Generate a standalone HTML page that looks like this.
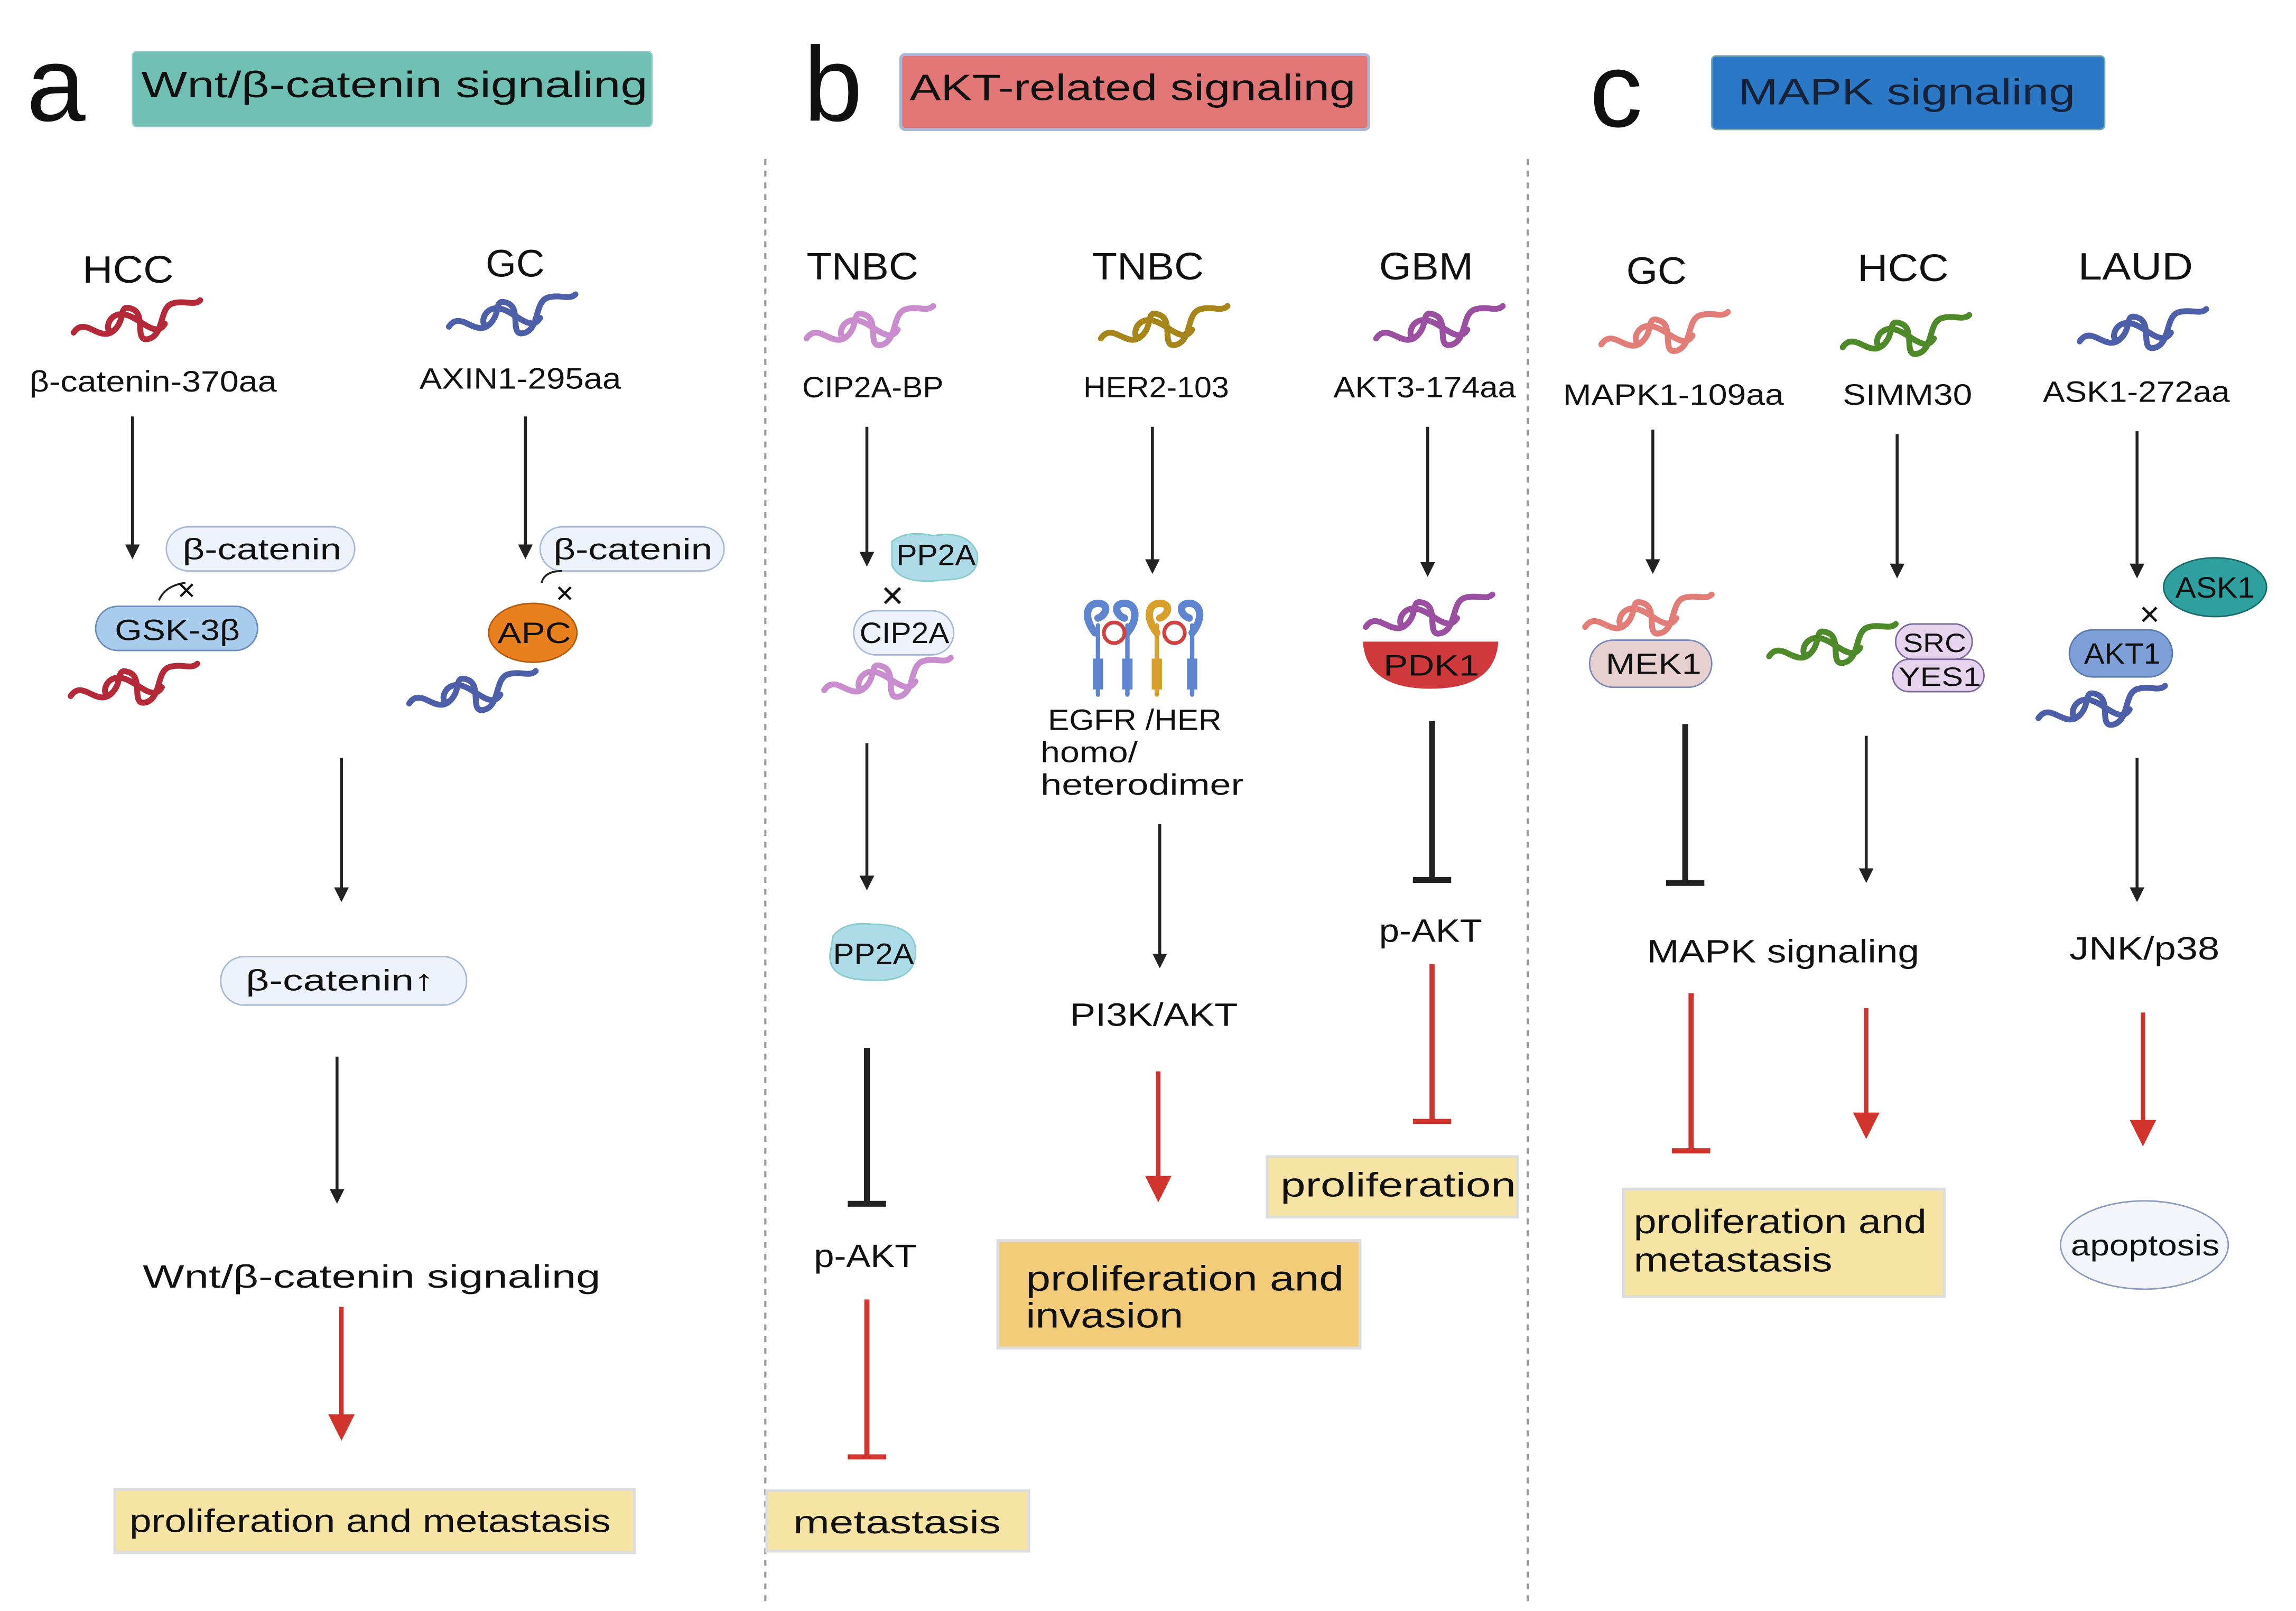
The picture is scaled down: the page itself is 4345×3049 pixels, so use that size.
<!DOCTYPE html>
<html><head><meta charset="utf-8">
<style>
html,body{margin:0;padding:0;background:#fff;}
svg{display:block;}
text{font-family:"Liberation Sans","DejaVu Sans",sans-serif;fill:#111;}
</style></head>
<body>
<svg width="4345" height="3049" viewBox="0 0 1560 1094.7" preserveAspectRatio="none" xmlns="http://www.w3.org/2000/svg">
<defs>
<marker id="ab" markerWidth="10" markerHeight="10" refX="5" refY="5" orient="auto" markerUnits="userSpaceOnUse" viewBox="0 0 10 10"><path d="M0,0 L10,5 L0,10 z" fill="#222"/></marker>
<marker id="ar" markerWidth="18" markerHeight="18" refX="9" refY="9" orient="auto" markerUnits="userSpaceOnUse" viewBox="0 0 18 18"><path d="M0,0 L18,9 L0,18 z" fill="#d0342c"/></marker>
<path id="sq" d="M0,26 C8,14 18,34 28,24 C36,16 30,6 40,10 C50,14 40,34 52,30 C62,26 58,8 68,6 C76,4 82,8 86,4 M28,24 C20,30 22,10 36,14 C46,17 56,30 62,20" fill="none" stroke-width="4" stroke-linecap="round"/>
</defs>
<rect width="1560" height="1094.7" fill="#fff"/>

<!-- headers -->
<text x="18" y="82" font-size="72">a</text>
<rect x="90" y="35" width="353" height="51" rx="3" fill="#6fc0b2" stroke="#9cc" />
<text x="96" y="66" font-size="25" textLength="344" lengthAdjust="spacingAndGlyphs">Wnt/β-catenin signaling</text>
<text x="546" y="82" font-size="72">b</text>
<rect x="612" y="37" width="318" height="51" rx="3" fill="#e27676" stroke="#a9b6d6" stroke-width="2"/>
<text x="618" y="68" font-size="25" textLength="303" lengthAdjust="spacingAndGlyphs">AKT-related signaling</text>
<text x="1080" y="86" font-size="72">c</text>
<rect x="1163" y="38" width="267" height="50" rx="3" fill="#2a78c6" stroke="#7aa" />
<text x="1181" y="71" font-size="25" textLength="229" lengthAdjust="spacingAndGlyphs" style="fill:#152238">MAPK  signaling</text>

<line x1="520" y1="108" x2="520" y2="1090" stroke="#999" stroke-width="1.5" stroke-dasharray="4,4"/>
<line x1="1038" y1="108" x2="1038" y2="1090" stroke="#999" stroke-width="1.5" stroke-dasharray="4,4"/>

<g font-size="20">
<!-- Panel a -->
<text x="56" y="192" font-size="26" textLength="62" lengthAdjust="spacingAndGlyphs">HCC</text>
<use href="#sq" x="50" y="200" stroke="#b52a38"/>
<text x="20" y="266" textLength="168" lengthAdjust="spacingAndGlyphs">β-catenin-370aa</text>
<line x1="90" y1="283" x2="90" y2="375" stroke="#222" stroke-width="2" marker-end="url(#ab)"/>
<rect x="113" y="358" width="128" height="30" rx="15" fill="#eef3fb" stroke="#a8b8d8"/>
<text x="124" y="380" textLength="108" lengthAdjust="spacingAndGlyphs">β-catenin</text>
<path d="M108,408 q4,-10 18,-12" fill="none" stroke="#222" stroke-width="1.3"/>
<text x="120" y="407" font-size="16">✕</text>
<rect x="65" y="412" width="110" height="30" rx="15" fill="#a9cbec" stroke="#6d8cb8"/>
<text x="78" y="435" textLength="85" lengthAdjust="spacingAndGlyphs">GSK-3β</text>
<use href="#sq" x="48" y="447" stroke="#b52a38"/>

<text x="330" y="188" font-size="26" textLength="40" lengthAdjust="spacingAndGlyphs">GC</text>
<use href="#sq" x="305" y="196" stroke="#4d5fa8"/>
<text x="285" y="264" textLength="137" lengthAdjust="spacingAndGlyphs">AXIN1-295aa</text>
<line x1="357" y1="283" x2="357" y2="375" stroke="#222" stroke-width="2" marker-end="url(#ab)"/>
<rect x="367" y="358" width="125" height="30" rx="15" fill="#eef3fb" stroke="#a8b8d8"/>
<text x="376" y="380" textLength="108" lengthAdjust="spacingAndGlyphs">β-catenin</text>
<path d="M368,396 q2,-8 14,-8" fill="none" stroke="#222" stroke-width="1.3"/>
<text x="377" y="409" font-size="16">✕</text>
<ellipse cx="362" cy="430" rx="30" ry="20" fill="#e8801e" stroke="#b65a10"/>
<text x="338" y="437" textLength="50" lengthAdjust="spacingAndGlyphs">APC</text>
<use href="#sq" x="278" y="452" stroke="#4d5fa8"/>

<line x1="232" y1="515" x2="232" y2="608" stroke="#222" stroke-width="2" marker-end="url(#ab)"/>
<rect x="150" y="650" width="167" height="33" rx="16" fill="#eef3fb" stroke="#a8b8d8"/>
<text x="167" y="673" textLength="128" lengthAdjust="spacingAndGlyphs">β-catenin↑</text>
<line x1="229" y1="718" x2="229" y2="813" stroke="#222" stroke-width="2" marker-end="url(#ab)"/>
<text x="97" y="875" font-size="22" textLength="311" lengthAdjust="spacingAndGlyphs">Wnt/β-catenin signaling</text>
<line x1="232" y1="888" x2="232" y2="970" stroke="#d0342c" stroke-width="3" marker-end="url(#ar)"/>
<rect x="78" y="1012" width="353" height="43" fill="#f6e4a4" stroke="#ddd" stroke-width="2"/>
<text x="88" y="1041" font-size="22" textLength="327" lengthAdjust="spacingAndGlyphs">proliferation and metastasis</text>

<!-- Panel b -->
<text x="548" y="190" font-size="26" textLength="76" lengthAdjust="spacingAndGlyphs">TNBC</text>
<use href="#sq" x="548" y="204" stroke="#c98ccc"/>
<text x="545" y="270" textLength="96" lengthAdjust="spacingAndGlyphs">CIP2A-BP</text>
<line x1="589" y1="290" x2="589" y2="380" stroke="#222" stroke-width="2" marker-end="url(#ab)"/>
<path d="M606,368 q10,-8 28,-4 q24,-4 30,12 q2,18 -22,18 q-30,4 -36,-10 z" fill="#aedbe8" stroke="#8cc"/>
<text x="609" y="384" textLength="54" lengthAdjust="spacingAndGlyphs">PP2A</text>
<text x="598" y="412" font-size="20">✕</text>
<rect x="580" y="415" width="68" height="30" rx="15" fill="#eef3fb" stroke="#a8b8d8"/>
<text x="584" y="437" textLength="61" lengthAdjust="spacingAndGlyphs">CIP2A</text>
<use href="#sq" x="560" y="443" stroke="#c98ccc"/>
<line x1="589" y1="505" x2="589" y2="600" stroke="#222" stroke-width="2" marker-end="url(#ab)"/>
<path d="M566,636 q8,-10 26,-8 q28,0 30,16 q2,24 -30,22 q-30,0 -28,-18 z" fill="#aedbe8" stroke="#8cc"/>
<text x="566" y="655" textLength="55" lengthAdjust="spacingAndGlyphs">PP2A</text>
<line x1="589" y1="712" x2="589" y2="818" stroke="#222" stroke-width="4"/>
<line x1="576" y1="818" x2="602" y2="818" stroke="#222" stroke-width="4"/>
<text x="553" y="861" font-size="22" textLength="70" lengthAdjust="spacingAndGlyphs">p-AKT</text>
<line x1="589" y1="883" x2="589" y2="990" stroke="#d0342c" stroke-width="3.5"/>
<line x1="576" y1="990" x2="602" y2="990" stroke="#d0342c" stroke-width="3.5"/>
<rect x="521" y="1013" width="178" height="41" fill="#f6e4a4" stroke="#ddd" stroke-width="2"/>
<text x="539" y="1042" font-size="22" textLength="141" lengthAdjust="spacingAndGlyphs">metastasis</text>

<text x="742" y="190" font-size="26" textLength="76" lengthAdjust="spacingAndGlyphs">TNBC</text>
<use href="#sq" x="748" y="204" stroke="#a6851a"/>
<text x="736" y="270" textLength="99" lengthAdjust="spacingAndGlyphs">HER2-103</text>
<line x1="783" y1="290" x2="783" y2="385" stroke="#222" stroke-width="2" marker-end="url(#ab)"/>
<g stroke-linecap="round" fill="none">
<g stroke="#5f85d0"><path d="M744,430 c-8,-10 -6,-20 2,-20 c8,0 6,8 0,10" stroke-width="5"/><line x1="746" y1="425" x2="746" y2="472" stroke-width="3"/><rect x="743" y="448" width="6" height="20" fill="#5f85d0"/></g>
<g stroke="#5f85d0"><path d="M766,430 c8,-10 6,-20 -2,-20 c-8,0 -6,8 0,10" stroke-width="5"/><line x1="766" y1="425" x2="766" y2="472" stroke-width="3"/><rect x="763" y="448" width="6" height="20" fill="#5f85d0"/></g>
<g stroke="#d8a02a"><path d="M786,430 c-8,-10 -6,-20 2,-20 c8,0 6,8 0,10" stroke-width="5"/><line x1="786" y1="425" x2="786" y2="472" stroke-width="3"/><rect x="783" y="448" width="6" height="20" fill="#d8a02a"/></g>
<g stroke="#5f85d0"><path d="M810,430 c8,-10 6,-20 -2,-20 c-8,0 -6,8 0,10" stroke-width="5"/><line x1="810" y1="425" x2="810" y2="472" stroke-width="3"/><rect x="807" y="448" width="6" height="20" fill="#5f85d0"/></g>
<circle cx="757" cy="430" r="7" stroke="#d04040" stroke-width="2.5"/>
<circle cx="798" cy="430" r="7" stroke="#d04040" stroke-width="2.5"/>
</g>
<text x="712" y="496" textLength="118" lengthAdjust="spacingAndGlyphs">EGFR /HER</text>
<text x="707" y="518" textLength="66" lengthAdjust="spacingAndGlyphs">homo/</text>
<text x="707" y="540" textLength="138" lengthAdjust="spacingAndGlyphs">heterodimer</text>
<line x1="788" y1="560" x2="788" y2="653" stroke="#222" stroke-width="2" marker-end="url(#ab)"/>
<text x="727" y="697" font-size="22" textLength="114" lengthAdjust="spacingAndGlyphs">PI3K/AKT</text>
<line x1="787" y1="728" x2="787" y2="808" stroke="#d0342c" stroke-width="3" marker-end="url(#ar)"/>
<rect x="678" y="843" width="246" height="73" fill="#f2cc78" stroke="#ddd" stroke-width="2"/>
<text x="697" y="877" font-size="24" textLength="216" lengthAdjust="spacingAndGlyphs">proliferation and</text>
<text x="697" y="902" font-size="24" textLength="107" lengthAdjust="spacingAndGlyphs">invasion</text>

<text x="937" y="190" font-size="26" textLength="64" lengthAdjust="spacingAndGlyphs">GBM</text>
<use href="#sq" x="935" y="204" stroke="#9a4fa0"/>
<text x="906" y="270" textLength="124" lengthAdjust="spacingAndGlyphs">AKT3-174aa</text>
<line x1="970" y1="290" x2="970" y2="387" stroke="#222" stroke-width="2" marker-end="url(#ab)"/>
<use href="#sq" x="928" y="400" stroke="#9a4fa0"/>
<path d="M926,436 L1018,436 Q1016,468 972,468 Q928,468 926,436 z" fill="#d0393b"/>
<text x="940" y="459" textLength="65" lengthAdjust="spacingAndGlyphs">PDK1</text>
<line x1="973" y1="490" x2="973" y2="598" stroke="#222" stroke-width="4"/>
<line x1="960" y1="598" x2="986" y2="598" stroke="#222" stroke-width="4"/>
<text x="937" y="640" font-size="22" textLength="70" lengthAdjust="spacingAndGlyphs">p-AKT</text>
<line x1="973" y1="655" x2="973" y2="762" stroke="#d0342c" stroke-width="3.5"/>
<line x1="960" y1="762" x2="986" y2="762" stroke="#d0342c" stroke-width="3.5"/>
<rect x="861" y="786" width="170" height="41" fill="#f6e4a4" stroke="#ddd" stroke-width="2"/>
<text x="870" y="813" font-size="23" textLength="160" lengthAdjust="spacingAndGlyphs">proliferation</text>

<!-- Panel c -->
<text x="1105" y="193" font-size="26" textLength="41" lengthAdjust="spacingAndGlyphs">GC</text>
<use href="#sq" x="1088" y="208" stroke="#e37d78"/>
<text x="1062" y="275" textLength="150" lengthAdjust="spacingAndGlyphs">MAPK1-109aa</text>
<line x1="1123" y1="292" x2="1123" y2="385" stroke="#222" stroke-width="2" marker-end="url(#ab)"/>
<use href="#sq" x="1077" y="400" stroke="#e37d78"/>
<rect x="1080" y="435" width="83" height="32" rx="16" fill="#e8d0d0" stroke="#7a8ab8"/>
<text x="1091" y="458" textLength="65" lengthAdjust="spacingAndGlyphs">MEK1</text>
<line x1="1145" y1="492" x2="1145" y2="600" stroke="#222" stroke-width="4"/>
<line x1="1132" y1="600" x2="1158" y2="600" stroke="#222" stroke-width="4"/>

<text x="1262" y="191" font-size="26" textLength="62" lengthAdjust="spacingAndGlyphs">HCC</text>
<use href="#sq" x="1252" y="210" stroke="#4f8a2a"/>
<text x="1252" y="275" textLength="88" lengthAdjust="spacingAndGlyphs">SIMM30</text>
<line x1="1289" y1="295" x2="1289" y2="388" stroke="#222" stroke-width="2" marker-end="url(#ab)"/>
<use href="#sq" x="1202" y="420" stroke="#4f8a2a"/>
<rect x="1288" y="424" width="52" height="24" rx="12" fill="#e6d3ee" stroke="#7a6a9a"/>
<text x="1293" y="443" font-size="18" textLength="43" lengthAdjust="spacingAndGlyphs">SRC</text>
<rect x="1286" y="448" width="62" height="22" rx="11" fill="#e6d3ee" stroke="#7a6a9a"/>
<text x="1290" y="466" font-size="18" textLength="56" lengthAdjust="spacingAndGlyphs">YES1</text>
<line x1="1268" y1="500" x2="1268" y2="595" stroke="#222" stroke-width="2" marker-end="url(#ab)"/>
<text x="1119" y="654" font-size="22" textLength="185" lengthAdjust="spacingAndGlyphs">MAPK signaling</text>
<line x1="1149" y1="675" x2="1149" y2="782" stroke="#d0342c" stroke-width="3.5"/>
<line x1="1136" y1="782" x2="1162" y2="782" stroke="#d0342c" stroke-width="3.5"/>
<line x1="1268" y1="685" x2="1268" y2="765" stroke="#d0342c" stroke-width="3" marker-end="url(#ar)"/>
<rect x="1103" y="808" width="218" height="73" fill="#f6e4a4" stroke="#ddd" stroke-width="2"/>
<text x="1110" y="838" font-size="23" textLength="199" lengthAdjust="spacingAndGlyphs">proliferation and</text>
<text x="1110" y="864" font-size="23" textLength="135" lengthAdjust="spacingAndGlyphs">metastasis</text>

<text x="1412" y="190" font-size="26" textLength="78" lengthAdjust="spacingAndGlyphs">LAUD</text>
<use href="#sq" x="1413" y="206" stroke="#4d5fa8"/>
<text x="1388" y="273" textLength="127" lengthAdjust="spacingAndGlyphs">ASK1-272aa</text>
<line x1="1452" y1="293" x2="1452" y2="388" stroke="#222" stroke-width="2" marker-end="url(#ab)"/>
<ellipse cx="1505" cy="399" rx="35" ry="20" fill="#2ea0a0" stroke="#1a6a6a"/>
<text x="1478" y="406" textLength="54" lengthAdjust="spacingAndGlyphs">ASK1</text>
<text x="1453" y="424" font-size="18">✕</text>
<rect x="1406" y="428" width="70" height="32" rx="16" fill="#7f9fd8" stroke="#5a7ab0"/>
<text x="1416" y="451" textLength="52" lengthAdjust="spacingAndGlyphs">AKT1</text>
<use href="#sq" x="1385" y="462" stroke="#4d5fa8"/>
<line x1="1452" y1="515" x2="1452" y2="608" stroke="#222" stroke-width="2" marker-end="url(#ab)"/>
<text x="1406" y="652" font-size="22" textLength="102" lengthAdjust="spacingAndGlyphs">JNK/p38</text>
<line x1="1456" y1="688" x2="1456" y2="770" stroke="#d0342c" stroke-width="3" marker-end="url(#ar)"/>
<ellipse cx="1457" cy="846" rx="57" ry="30" fill="#f3f5fb" stroke="#8a9ac0"/>
<text x="1407" y="853" textLength="101" lengthAdjust="spacingAndGlyphs">apoptosis</text>
</g>
</svg>
</body></html>
